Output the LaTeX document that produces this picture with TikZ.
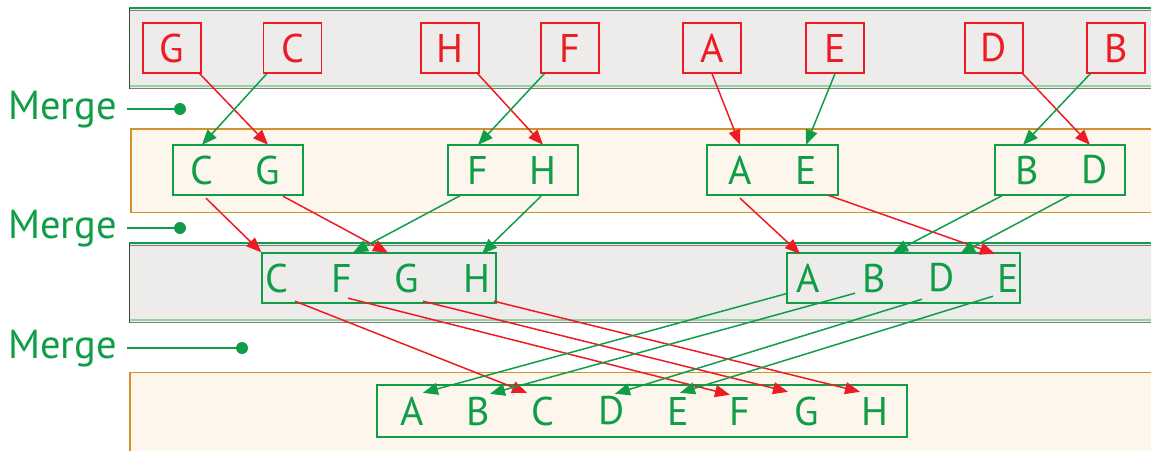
\documentclass[tikz,border=0pt]{standalone}
\usepackage{fontspec}
\setmainfont{PT Sans}
\usetikzlibrary{arrows.meta,calc}

\definecolor{mgreen}{RGB}{16,157,72}
\definecolor{mred}{RGB}{237,28,36}
\definecolor{bandgray}{RGB}{237,236,234}
\definecolor{bandedge}{RGB}{125,125,125}
\definecolor{bandleft}{RGB}{60,70,60}
\definecolor{palegreen}{RGB}{150,210,160}
\definecolor{cream}{RGB}{253,246,237}
\definecolor{ochre}{RGB}{209,146,46}

\begin{document}
\begin{tikzpicture}[x=1pt,y=-1pt,
  bigfont/.style={font=\fontsize{40}{42}\selectfont},
  letter/.style={bigfont, inner sep=0pt, text=mgreen, minimum width=20, minimum height=50},
  redbox/.style={bigfont, draw=mred, line width=1.3pt, text=mred, inner sep=0pt,
                 minimum width=58, minimum height=50},
  grpbox/.style={draw=mgreen, line width=1.4pt, inner sep=0pt, minimum height=50},
  redarrow/.style={draw=mred, line width=1.5pt, -{Triangle[length=15pt,width=12pt]}},
  greenarrow/.style={draw=mgreen, line width=1.5pt, -{Triangle[length=15pt,width=12pt]}},
  mergelabel/.style={font=\fontsize{40.5}{42}\selectfont, text=mgreen, inner sep=0pt},
  mergedot/.style={circle, fill=mgreen, inner sep=0pt, minimum size=12},
  mergeline/.style={draw=mgreen, line width=1.4pt},
  grayband/.style={fill=bandgray},
  creamband/.style={fill=cream, draw=ochre, line width=1.6pt}
]
\useasboundingbox (0,0) rectangle (1151,450);
\clip (0,0) rectangle (1151,450);

% ---- bands ----
\fill[grayband] (129,9) rectangle (1160,88);
\draw[bandedge, line width=1.6pt] (129,10.5) -- (1160,10.5);
\draw[mgreen, line width=1.4pt] (129,8) -- (1160,8);
\draw[palegreen, line width=1.6pt] (129,86) -- (1160,86);
\draw[bandedge, line width=1.6pt] (129,88.5) -- (1160,88.5);
\draw[bandleft, line width=1.3pt] (129.5,8) -- (129.5,89);

\path[creamband] (130.8,129) rectangle (1165,212.5);

\fill[grayband] (129,244) rectangle (1160,322);
\draw[bandedge, line width=1.6pt] (129,245.5) -- (1160,245.5);
\draw[mgreen, line width=1.4pt] (129,243) -- (1160,243);
\draw[palegreen, line width=1.6pt] (129,320) -- (1160,320);
\draw[bandedge, line width=1.6pt] (129,322.5) -- (1160,322.5);
\draw[bandleft, line width=1.3pt] (129.5,243) -- (129.5,323);

\path[creamband] (129.8,372.5) rectangle (1165,470);

% ---- merge labels ----
\node[mergelabel, anchor=base east] (m1) at (117,119) {Merge};
\node[mergedot] (d1) at (180,109) {};
\coordinate (s1) at (127,109);
\draw[mergeline] (s1) -- (d1.center);

\node[mergelabel, anchor=base east] (m2) at (117,238) {Merge};
\node[mergedot] (d2) at (180,228) {};
\coordinate (s2) at (127,228);
\draw[mergeline] (s2) -- (d2.center);

\node[mergelabel, anchor=base east] (m3) at (117,358) {Merge};
\node[mergedot] (d3) at (242,348) {};
\coordinate (s3) at (127,348);
\draw[mergeline] (s3) -- (d3.center);

% ---- level 1: single elements ----
\node[redbox] (g1) at (172,48)   {G};
\node[redbox] (c1) at (292.5,48) {C};
\node[redbox] (h1) at (450,48)   {H};
\node[redbox] (f1) at (570,48)   {F};
\node[redbox] (a1) at (712,48)   {A};
\node[redbox] (e1) at (835,48)   {E};
\node[redbox] (dd1) at (994,48)  {D};
\node[redbox] (b1) at (1116,48)  {B};

% ---- level 2: pairs ----
\node[grpbox, minimum width=130] (cg) at (238,170) {};
\node[letter] (c2) at (202,170) {C};
\node[letter] (g2) at (268,170) {G};
\node[grpbox, minimum width=130] (fh) at (513,170) {};
\node[letter] (f2) at (478,170) {F};
\node[letter] (h2) at (543,170) {H};
\node[grpbox, minimum width=131] (ae) at (772.5,170) {};
\node[letter] (a2) at (740,170) {A};
\node[letter] (e2) at (806,170) {E};
\node[grpbox, minimum width=130] (bd) at (1060,170) {};
\node[letter] (b2) at (1027,170) {B};
\node[letter] (dd2) at (1095,170) {D};

% ---- level 3: quadruples ----
\node[grpbox, minimum width=234] (cfgh) at (379,278) {};
\node[letter] (c3) at (277,278) {C};
\node[letter] (f3) at (342,278) {F};
\node[letter] (g3) at (407,278) {G};
\node[letter] (h3) at (477,278) {H};
\node[grpbox, minimum width=233] (abde) at (903.5,278) {};
\node[letter] (a3) at (808,278) {A};
\node[letter] (b3) at (874,278) {B};
\node[letter] (dd3) at (942,278) {D};
\node[letter] (e3) at (1008,278) {E};

% ---- level 4: sorted run ----
\node[grpbox, minimum width=530, minimum height=52] (all) at (642,411) {};
\foreach \n/\x/\t in {a4/412/A, b4/478/B, c4/543/C, dd4/612/D, e4/678/E, f4/740/F, g4/807/G, h4/875/H}
  \node[letter, minimum height=52] (\n) at (\x,411) {\t};

% ---- merge 1 ----
\draw[redarrow]   ($(g1.south east)+(-2,0)$) -- (g2.north);
\draw[greenarrow] ($(c1.south west)+(4,0)$)  -- (c2.north);
\draw[redarrow]   ($(h1.south east)+(-2,0)$) -- (h2.north);
\draw[greenarrow] ($(f1.south west)+(4,0)$)  -- (f2.north);
\draw[redarrow]   (a1.south) -- (a2.north);
\draw[greenarrow] (e1.south) -- (e2.north);
\draw[redarrow]   ($(dd1.south east)+(-1,0)$) -- ($(dd2.north)+(-5,0)$);
\draw[greenarrow] ($(b1.south west)+(4,0)$)  -- ($(b2.north)+(-4,0)$);

% ---- merge 2 ----
\draw[redarrow]   ($(c2.south)+(4,3)$)   -- (cfgh.north west);
\draw[redarrow]   ($(g2.south)+(15,1)$)  -- ($(g3.north)+(-19,0)$);
\draw[greenarrow] ($(f2.south)+(-17,0)$) -- ($(f3.north)+(11,0)$);
\draw[greenarrow] ($(h2.south)+(-2,1)$)  -- ($(h3.north)+(5,1)$);
\draw[redarrow]   ($(a2.south)+(0,3)$)   -- ($(a3.north)+(-8,1)$);
\draw[redarrow]   ($(e2.south)+(22,0)$)  -- ($(e3.north)+(-13,1)$);
\draw[greenarrow] ($(b2.south)+(-24,0)$) -- ($(b3.north)+(19,0)$);
\draw[greenarrow] ($(dd2.south)+(-23,-1)$) -- ($(dd3.north)+(18,1)$);

% ---- merge 3 ----
\draw[redarrow]   ($(c3.south)+(18,-2)$)  -- ($(c4.north)+(-16,8)$);
\draw[redarrow]   ($(f3.south)+(6,-5)$)   -- ($(f4.north)+(-10,10)$);
\draw[redarrow]   ($(g3.south)+(16,-2)$)  -- ($(g4.north)+(-19,7)$);
\draw[redarrow]   ($(h3.south)+(17,-2)$)  -- ($(h4.north)+(-15,7)$);
\draw[greenarrow] ($(a3.south)+(-20,-10)$) -- ($(a4.north)+(11,8)$);
\draw[greenarrow] ($(b3.south)+(-19,-10)$) -- ($(b4.north)+(12,9)$);
\draw[greenarrow] ($(dd3.south)+(-20,-4)$) -- ($(dd4.north)+(3,9)$);
\draw[greenarrow] ($(e3.south)+(-15,-7)$)  -- ($(e4.north)+(2,8)$);
\end{tikzpicture}
\end{document}
